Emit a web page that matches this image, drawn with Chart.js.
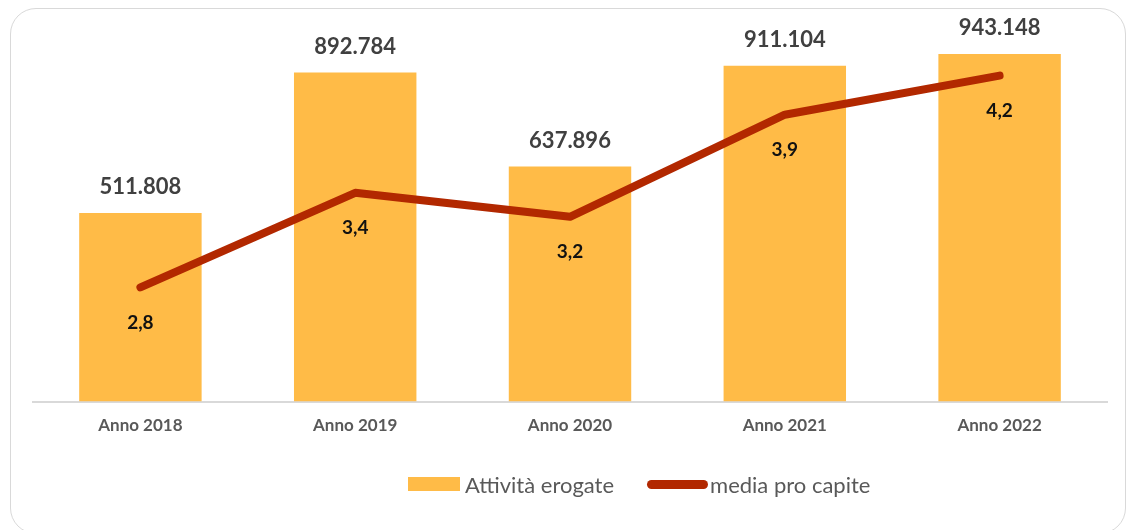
<!DOCTYPE html>
<html><head><meta charset="utf-8">
<script src="https://cdn.jsdelivr.net/npm/chart.js@4"></script>
<style>
html,body{margin:0;padding:0;background:#fff;overflow:hidden;}
#wrap{position:relative;width:1130px;height:530px;}
#frame{position:absolute;left:10px;top:8px;width:1116px;height:526px;border:1.5px solid #d9d9d9;border-radius:26px;box-sizing:border-box;}
canvas{position:absolute;left:0;top:0;}
#legend{position:absolute;left:408px;top:470px;height:28px;font-family:Lato,sans-serif;font-size:22px;color:#595959;display:flex;align-items:center;white-space:nowrap;}
.sw{display:inline-block;}
</style></head>
<body>
<div id="wrap">
<div id="frame"></div>
<canvas id="c" width="1130" height="530"></canvas>
<div id="legend">
<span class="sw" style="width:52px;height:14px;background:#FFBB47;margin-right:5px;"></span><span>Attività erogate</span>
<span class="sw" style="width:61px;height:9px;background:#B22800;border-radius:5px;margin-left:33px;margin-right:2px;"></span><span>media pro capite</span>
</div>
</div>
<script>
const categories = ["Anno 2018","Anno 2019","Anno 2020","Anno 2021","Anno 2022"];
const attivitaErogate = [511808, 892784, 637896, 911104, 943148];
const mediaProCapite = [2.77, 3.40, 3.24, 3.92, 4.18];

const fmtInt = v => v.toLocaleString('it-IT');
const fmtDec = v => v.toFixed(1).replace('.', ',');

const labelPlugin = {
  id: 'valueLabels',
  afterDatasetsDraw(chart) {
    const ctx = chart.ctx;
    ctx.save();
    ctx.textAlign = 'center';
    ctx.textBaseline = 'middle';
    chart.data.datasets.forEach((ds, i) => {
      const meta = chart.getDatasetMeta(i);
      meta.data.forEach((el, j) => {
        const v = ds.data[j];
        if (ds.type === 'bar') {
          ctx.font = 'bold 22px Lato, sans-serif';
          ctx.fillStyle = '#404040';
          ctx.fillText(fmtInt(v), el.x, el.y - 26);
        } else {
          ctx.font = 'bold 19px Lato, sans-serif';
          ctx.fillStyle = '#111111';
          ctx.fillText(fmtDec(v), el.x, el.y + 35);
        }
      });
    });
    ctx.restore();
  }
};

new Chart(document.getElementById('c'), {
  data: {
    labels: categories,
    datasets: [
      { type: 'line', label: 'media pro capite', data: mediaProCapite, yAxisID: 'y1',
        borderColor: '#B22800', borderWidth: 8, borderCapStyle: 'round', borderJoinStyle: 'round',
        pointRadius: 0, tension: 0, order: 0, fill: false },
      { type: 'bar', label: 'Attività erogate', data: attivitaErogate, yAxisID: 'y',
        backgroundColor: '#FFBB47', barPercentage: 0.57, categoryPercentage: 1.0, order: 1 }
    ]
  },
  options: {
    responsive: false,
    animation: false,
    devicePixelRatio: 1,
    layout: { padding: { left: 33, right: 23, top: 33, bottom: 80 } },
    plugins: { legend: { display: false }, tooltip: { enabled: false } },
    scales: {
      x: {
        grid: { display: false, drawTicks: false },
        border: { display: true, color: '#d9d9d9', width: 2 },
        ticks: { color: '#595959', font: { family: 'Lato', weight: 'bold', size: 17 }, padding: 14 }
      },
      y: { display: false, min: 0, max: 1000000 },
      y1: { display: false, min: 2.01, max: 4.464, position: 'right' }
    }
  },
  plugins: [labelPlugin]
});
</script>
</body></html>
